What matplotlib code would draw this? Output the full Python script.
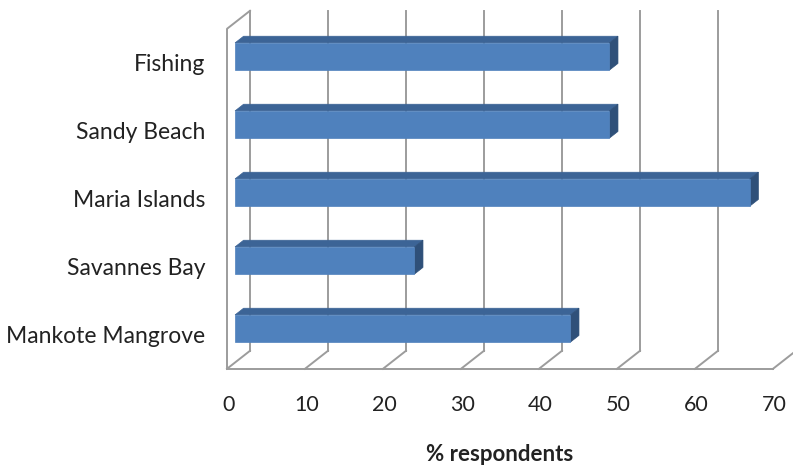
import numpy as np
import matplotlib.pyplot as plt
from matplotlib.patches import Polygon

# data
categories = ["Mankote Mangrove", "Savannes Bay", "Maria Islands", "Sandy Beach", "Fishing"]
values = [43, 23, 66, 48, 48]
xticks = [0, 10, 20, 30, 40, 50, 60, 70]
xlabel = "% respondents"

plt.rcParams['font.family'] = ['Lato', 'DejaVu Sans']

# oblique "3D" offsets (data units)
DX, DY = 2.95, 0.265
d0, d1 = 0.35, 0.72
h = 0.2

def proj(v, y, d):
    return (v + d * DX, y + d * DY)

fig = plt.figure(figsize=(7.93, 4.72), dpi=100)
ax = fig.add_axes([0, 0, 1, 1])
ax.axis('off')
ax.set_xlim(-227 / 7.8, (793 - 227) / 7.8)
ax.set_ylim((334.8 - 472) / 68, 334.8 / 68)

grid = '#9c9c9c'
ybot, ytop = -0.5, 4.5
xmax = xticks[-1]

# back wall gridlines and floor diagonals
for t in xticks:
    x0, y0 = proj(t, ybot, 1)
    x1, y1 = proj(t, ytop, 1)
    ax.plot([x0, x1], [y0, y1], color=grid, lw=1.4, zorder=1)
    xa, ya = proj(t, ybot, 0)
    ax.plot([xa, x0], [ya, y0], color=grid, lw=1.4, zorder=1)
# floor front edge
ax.plot([proj(0, ybot, 0)[0], proj(xmax, ybot, 0)[0]], [ybot, ybot], color=grid, lw=1.4, zorder=1)
# left wall
p = [proj(0, ybot, 0), proj(0, ytop, 0), proj(0, ytop, 1)]
ax.plot([q[0] for q in p], [q[1] for q in p], color=grid, lw=1.4, zorder=1)

front_c, top_c, side_c = '#4f81bd', '#3c6496', '#2f5079'
for i, v in enumerate(values):
    y = i
    front = [proj(0, y - h, d0), proj(v, y - h, d0), proj(v, y + h, d0), proj(0, y + h, d0)]
    top = [proj(0, y + h, d0), proj(v, y + h, d0), proj(v, y + h, d1), proj(0, y + h, d1)]
    side = [proj(v, y - h, d0), proj(v, y + h, d0), proj(v, y + h, d1), proj(v, y - h, d1)]
    for poly, c in [(top, top_c), (side, side_c), (front, front_c)]:
        ax.add_patch(Polygon(poly, closed=True, facecolor=c, edgecolor=c, lw=0.5, zorder=3))
    ax.text(-2.8, y - 0.03, categories[i], ha='right', va='center', fontsize=16.5, color='#222222')

for t in xticks:
    ax.text(t + 0.2, -1.03, str(t), ha='center', va='center', fontsize=15.5, color='#222222')

ax.text(35, -1.76, xlabel, ha='center', va='center', fontsize=16, fontweight='bold', color='#222222')

fig.savefig('out.png', dpi=100)
